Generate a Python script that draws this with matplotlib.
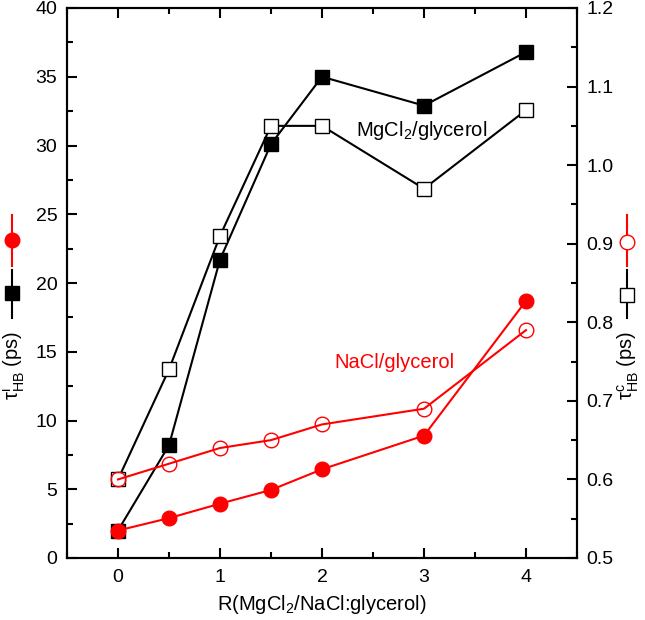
import matplotlib
matplotlib.use("Agg")
import matplotlib.pyplot as plt
from matplotlib.lines import Line2D
from matplotlib.ticker import MultipleLocator

plt.rcParams['font.family'] = ['Liberation Sans', 'DejaVu Sans']
plt.rcParams['mathtext.fontset'] = 'custom'
plt.rcParams['mathtext.rm'] = 'Liberation Sans'
plt.rcParams['mathtext.it'] = 'Liberation Sans:italic'

R = [0, 0.5, 1, 1.5, 2, 3, 4]
tau_i_mg = [2.0, 8.2, 21.7, 30.1, 35.0, 32.9, 36.8]
tau_i_na = [2.0, 2.9, 3.95, 4.95, 6.45, 8.9, 18.7]
tau_c_mg = [0.60, 0.74, 0.91, 1.05, 1.05, 0.97, 1.07]
tau_c_na = [0.60, 0.62, 0.64, 0.65, 0.67, 0.69, 0.79]

fig = plt.figure(figsize=(6.45, 6.2), dpi=100)
ax = fig.add_axes([67/645, 1-558/620, 510/645, 550/620])
ax2 = ax.twinx()

ax.plot(R, tau_i_mg, color='black', marker='s', ms=9.5, lw=1.5, zorder=3)
ax.plot(R, tau_i_na, color='red', marker='o', ms=10.5, lw=1.5, zorder=3)
ax2.plot(R, tau_c_mg, color='black', marker='s', ms=9.5, mfc='white', mec='black', mew=1, lw=1.5)
ax2.plot(R, tau_c_na, color='red', marker='o', ms=10.5, mfc='none', mec='red', mew=1, lw=1.5)

ax.set_xlim(-0.5, 4.5)
ax.set_ylim(0, 40)
ax2.set_ylim(0.5, 1.2)
ax.xaxis.set_major_locator(MultipleLocator(1))
ax.xaxis.set_minor_locator(MultipleLocator(0.5))
ax.yaxis.set_major_locator(MultipleLocator(5))
ax.yaxis.set_minor_locator(MultipleLocator(2.5))
ax2.yaxis.set_major_locator(MultipleLocator(0.1))
ax2.yaxis.set_minor_locator(MultipleLocator(0.05))
ax2.yaxis.set_major_formatter(matplotlib.ticker.FormatStrFormatter('%.1f'))

for a in (ax, ax2):
    for s in a.spines.values():
        s.set_linewidth(1.5)
ax.tick_params(axis='both', which='both', direction='in', top=True, labelsize=14, width=1.5)
ax.tick_params(which='major', length=7)
ax.tick_params(which='minor', length=4)
ax.tick_params(axis='y', pad=7)
ax.tick_params(axis='x', pad=8)
ax2.tick_params(axis='y', which='both', direction='in', labelsize=14, width=1.5, pad=7)
ax2.tick_params(which='major', length=7)
ax2.tick_params(which='minor', length=4)

ax.set_xlabel(r'R(MgCl$_2$/NaCl:glycerol)', fontsize=14.5, labelpad=5)

ax.text(2.33, 31.1, r'MgCl$_2$/glycerol', fontsize=14.5, color='black', va='center')
ax.text(2.12, 14.2, 'NaCl/glycerol', fontsize=14.5, color='red', va='center')

# left axis label with legend symbols
fig.text(13/645, 1-400/620, r'$\mathrm{\tau}^{\rm i}_{\rm HB}$ (ps)', rotation=90, fontsize=14.5, ha='center', va='bottom')
fig.add_artist(Line2D([12/645]*2, [1-318/620, 1-270/620], color='black', lw=1.5, transform=fig.transFigure))
fig.add_artist(Line2D([12/645], [1-293/620], color='black', marker='s', ms=9.5, transform=fig.transFigure))
fig.add_artist(Line2D([12/645]*2, [1-266/620, 1-215/620], color='red', lw=1.5, transform=fig.transFigure))
fig.add_artist(Line2D([12/645], [1-240/620], color='red', marker='o', ms=10.5, transform=fig.transFigure))

# right axis label with legend symbols
fig.text(628/645, 1-400/620, r'$\mathrm{\tau}^{\rm c}_{\rm HB}$ (ps)', rotation=90, fontsize=14.5, ha='center', va='bottom')
fig.add_artist(Line2D([627/645]*2, [1-318/620, 1-270/620], color='black', lw=1.5, transform=fig.transFigure))
fig.add_artist(Line2D([627/645], [1-295/620], color='black', marker='s', ms=9.5, mfc='white', mec='black', mew=1, transform=fig.transFigure))
fig.add_artist(Line2D([627/645]*2, [1-266/620, 1-215/620], color='red', lw=1.5, transform=fig.transFigure))
fig.add_artist(Line2D([627/645], [1-242/620], color='red', marker='o', ms=10.5, mfc='white', mec='red', mew=1, transform=fig.transFigure))

fig.savefig('out.png', dpi=100)
